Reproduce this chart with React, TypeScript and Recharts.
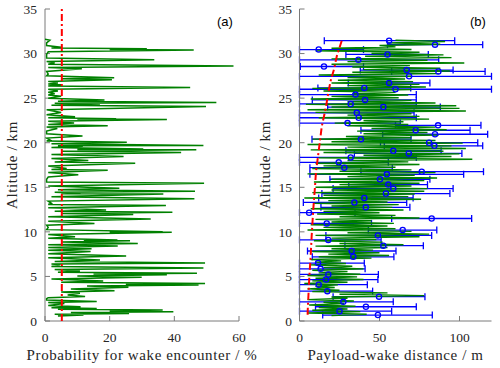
import React from 'react';
import { ComposedChart, Scatter, XAxis, YAxis, ErrorBar } from 'recharts';

const ALT_TICKS = [0, 5, 10, 15, 20, 25, 30, 35];
const PROB_TICKS = [0, 20, 40, 60];
const DIST_TICKS = [0, 50, 100];

// [altitude km, probability %]
const wakeProbability: [number, number][] = [
  [0.55, 4], [0.67, 11.9], [0.76, 3], [0.85, 26], [0.95, 8], [1.05, 39.7], [1.12, 20], [1.23, 36.4], [1.32, 4], [1.4, 16],
  [1.5, 2], [1.6, 11], [1.75, 1], [1.95, 6], [2.08, 1], [2.2, 16], [2.35, 0.5], [2.5, 0.5], [2.62, 1], [2.75, 12.4],
  [2.92, 7], [3.1, 10.8], [3.25, 5], [3.4, 21.5], [3.6, 8], [3.8, 25.8], [3.92, 13], [4.05, 47.5], [4.12, 25], [4.2, 49.5],
  [4.35, 5], [4.5, 18], [4.7, 2], [4.9, 29.9], [5.05, 10], [5.2, 37.7], [5.27, 15], [5.35, 47], [5.47, 4], [5.6, 10.8],
  [5.78, 3], [5.95, 49], [6.12, 2], [6.3, 4.7], [6.4, 2], [6.5, 49.5], [6.68, 3], [6.85, 17], [7.1, 1], [7.3, 25.1],
  [7.55, 1], [7.8, 14.1], [7.95, 1], [8.1, 14.4], [8.25, 1], [8.4, 22.5], [8.55, 1], [8.7, 28.7], [8.85, 5], [9.0, 26.3],
  [9.05, 12], [9.1, 22.4], [9.28, 1], [9.45, 9.3], [9.7, 1], [9.95, 39.2], [9.98, 20], [10.02, 36.4], [10.25, 0.5], [10.5, 1],
  [10.75, 0.5], [10.95, 15.3], [11.2, 1], [11.45, 32.7], [11.7, 1], [11.95, 27.3], [12.07, 5], [12.2, 39.4], [12.32, 3], [12.45, 18.9],
  [12.7, 1], [12.95, 37.4], [13.08, 1], [13.2, 2], [13.45, 1], [13.7, 46.2], [13.95, 2], [14.25, 36.6], [14.28, 5], [14.32, 11],
  [14.43, 3], [14.55, 46.4], [14.72, 4], [14.9, 23], [15.15, 1], [15.45, 49.2], [15.6, 0.5], [15.9, 0.5], [16.15, 1], [16.4, 10.3],
  [16.65, 1], [16.9, 19.4], [17.0, 2], [17.1, 6.7], [17.4, 1], [17.7, 27.9], [17.85, 3], [18.0, 13.4], [18.22, 2], [18.45, 24.3],
  [18.68, 2], [18.9, 42.1], [19.05, 5], [19.2, 46.8], [19.25, 10], [19.3, 30.4], [19.45, 2], [19.6, 11.7], [19.65, 4], [19.7, 49],
  [19.88, 2], [20.05, 25.3], [20.18, 0.5], [20.3, 1.6], [20.52, 0.5], [20.75, 11.6], [21.0, 0.5], [21.3, 0.5], [21.6, 3.8], [21.75, 0.5],
  [21.9, 19.4], [22.05, 1], [22.2, 9], [22.4, 1], [22.6, 37.7], [22.65, 10], [22.7, 22], [22.8, 1], [22.9, 9.3], [23.15, 0.5],
  [23.4, 5], [23.7, 0.5], [24.05, 49.8], [24.2, 2], [24.35, 17], [24.42, 3], [24.5, 53], [24.65, 4], [24.8, 18.4], [25.0, 1],
  [25.2, 5], [25.35, 1], [25.5, 3], [25.65, 1], [25.8, 4], [26.0, 1], [26.2, 44.9], [26.35, 1], [26.5, 5], [26.6, 1],
  [26.7, 4], [26.88, 1], [27.05, 20.7], [27.18, 5], [27.3, 21.4], [27.5, 0.5], [27.7, 1], [28.0, 0.5], [28.3, 11.4], [28.45, 1],
  [28.6, 58.3], [28.8, 1], [28.97, 3], [29.1, 0.5], [29.3, 33.8], [29.5, 0.5], [29.9, 0.5], [30.2, 1], [30.4, 46], [30.47, 20],
  [30.55, 31.5], [30.62, 2], [30.7, 5], [30.9, 0.5], [31.2, 0.5], [31.5, 1.5], [31.6, 0],
];

// [altitude km, probability %]
const probThreshold: [number, number][] = [[0, 5.2], [35, 5.2]];

// [altitude km, distance m]
const wakeDistance: [number, number][] = [
  [0.6, 20], [0.75, 42], [0.9, 5], [1.05, 38], [1.2, 8], [1.35, 30], [1.5, 12], [1.65, 35], [1.8, 6], [1.95, 28],
  [2.1, 15], [2.25, 34], [2.4, 5], [2.55, 30], [2.7, 20], [2.85, 78], [3.0, 25], [3.15, 55], [3.3, 8], [3.45, 25],
  [3.6, 5], [3.75, 22], [3.9, 10], [4.05, 24], [4.2, 3], [4.35, 30], [4.5, 8], [4.65, 40], [4.8, 10], [4.95, 36],
  [5.1, 5], [5.25, 38], [5.4, 12], [5.55, 30], [5.7, 8], [5.85, 40], [6.0, 15], [6.15, 33], [6.3, 7], [6.45, 29],
  [6.6, 10], [6.75, 26], [6.9, 7], [7.05, 45], [7.2, 12], [7.35, 56], [7.5, 18], [7.65, 50], [7.8, 8], [7.95, 46],
  [8.1, 20], [8.25, 55], [8.4, 10], [8.55, 65], [8.7, 25], [8.85, 52], [9.0, 9], [9.15, 48], [9.3, 20], [9.45, 75],
  [9.6, 10], [9.75, 81], [9.9, 30], [10.05, 70], [10.2, 5], [10.35, 60], [10.5, 15], [10.65, 55], [10.8, 7], [10.95, 59],
  [11.1, 20], [11.25, 45], [11.4, 10], [11.55, 75], [11.7, 25], [11.85, 60], [12.0, 11], [12.15, 50], [12.3, 15], [12.45, 65],
  [12.6, 7], [12.75, 58], [12.9, 20], [13.05, 62], [13.2, 9], [13.35, 55], [13.5, 18], [13.65, 76], [13.8, 3], [13.95, 68],
  [14.1, 15], [14.25, 72], [14.4, 8], [14.55, 78], [14.7, 20], [14.85, 80], [15.0, 10], [15.15, 70], [15.3, 25], [15.45, 75],
  [15.6, 9], [15.75, 78], [15.9, 20], [16.05, 86], [16.2, 30], [16.35, 72], [16.5, 5], [16.65, 85], [16.8, 25], [16.95, 70],
  [17.1, 8], [17.25, 60], [17.4, 15], [17.55, 75], [17.7, 10], [17.85, 68], [18.0, 30], [18.15, 108], [18.3, 12], [18.45, 95],
  [18.6, 40], [18.75, 100], [18.9, 15], [19.05, 90], [19.2, 7], [19.35, 104], [19.5, 30], [19.65, 95], [19.8, 5], [19.95, 102],
  [20.1, 20], [20.25, 85], [20.4, 8], [20.55, 70], [20.7, 29], [20.85, 87], [21.0, 40], [21.15, 80], [21.3, 36], [21.45, 92],
  [21.6, 45], [21.75, 85], [21.9, 30], [22.05, 68], [22.2, 22], [22.35, 65], [22.5, 40], [22.65, 81], [22.8, 12], [22.95, 75],
  [23.1, 30], [23.25, 70], [23.4, 10], [23.55, 104], [23.7, 5], [23.85, 100], [24.0, 20], [24.15, 98], [24.3, 4], [24.45, 85],
  [24.6, 30], [24.75, 70], [24.9, 7], [25.05, 62], [25.2, 20], [25.35, 68], [25.5, 33], [25.65, 60], [25.8, 15], [25.95, 70],
  [26.1, 8], [26.25, 79], [26.4, 30], [26.55, 75], [26.7, 20], [26.85, 71], [27.0, 24], [27.15, 66], [27.3, 30], [27.45, 70],
  [27.6, 12], [27.75, 87], [27.9, 33], [28.05, 94], [28.2, 40], [28.35, 88], [28.5, 33], [28.65, 69], [28.8, 20], [28.95, 103],
  [29.1, 30], [29.25, 80], [29.4, 20], [29.55, 95], [29.7, 41], [29.85, 90], [30.0, 45], [30.15, 75], [30.3, 10], [30.45, 70],
  [30.6, 20], [30.75, 60], [30.9, 50], [31.05, 88], [31.2, 55], [31.35, 91], [31.5, 60],
];

// [altitude km, distance m]
const distThreshold: [number, number][] = [
  [0.7, 5.1], [1.05, 5.1], [4.8, 6.1], [7.4, 7], [9.5, 7.6], [12.5, 8.6], [15.1, 9.7], [16.75, 10.3],
  [18.8, 11.8], [21.8, 13.9], [24.05, 16.6], [25.2, 17.6], [26.9, 19.4], [28.2, 21.5], [29.85, 23.5], [31.6, 26.7],
];

// [altitude km, mean distance m, lower bound m, upper bound m]
const distEstimates: [number, number, number, number][] = [
  [0.67, 49, 14.5, 83], [1.1, 25, -8, 57.6], [1.6, 41.5, 10, 73], [2.15, 27.4, -4, 58.6], [2.73, 49.7, 21, 78.4],
  [3.35, 17.4, -11, 45.7], [4.08, 12, -18, 42.4], [4.65, 16.6, -16, 49], [5.22, 18, -13, 49.3], [5.85, 13.2, -15, 41],
  [6.5, 11.6, -17, 40.5], [7.2, 33.6, 8, 59], [7.85, 32.6, 5, 60.3], [8.45, 52.4, 28.4, 77.4], [9.1, 18, -16, 51],
  [9.6, 49, 16.5, 82.6], [10.2, 64.5, 43, 85.8], [10.95, 17, -11, 45], [11.5, 82.6, 57.6, 107.6], [12.15, 6, -23, 34.7],
  [12.75, 41.4, 13.4, 69], [13.3, 34.3, 2.4, 67], [13.8, 40.5, 12, 71], [14.3, 54, 14, 94], [14.85, 58.6, 21, 96],
  [15.3, 55.5, 30.8, 80], [15.9, 50.3, 19, 81.5], [16.45, 54.6, 6.5, 102.6], [16.75, 76.4, 38.4, 115], [17.2, 28, 6.5, 58],
  [17.8, 24.5, -6, 55.5], [18.35, 32, -9, 73], [18.8, 68.3, 34.3, 101.5], [19.1, 58.6, 29, 88.5], [19.65, 84.3, 53, 114.5],
  [20.0, 81, 50.6, 111.4], [20.4, 38.4, 7.8, 69.7], [20.95, 84.7, 52, 117.6], [21.4, 72.6, 38.4, 106.6], [21.95, 86.6, 60, 113.4],
  [22.2, 30, -3, 63], [22.8, 37, -5, 73], [23.35, 35.8, -2, 71.6], [24.0, 52.4, 17.6, 88], [24.35, 32, -9, 73],
  [24.8, 41, 8, 73], [25.4, 35, -3, 73], [26.0, 60, -5, 130], [26.15, 40.5, 11.5, 69.5], [26.7, 56, 30.5, 81.5],
  [27.45, 68.5, -5, 140], [28.0, 86.8, 57.6, 116], [28.15, 67, 38, 96], [28.55, 15.3, 0.5, 40], [29.3, 36.8, -13, 87],
  [29.9, 55, 29, 80.5], [30.45, 12, -16, 40], [31.0, 84.7, 55, 114.5], [31.45, 56, 15.5, 97],
];

const DIST_MIN = 0;
const DIST_MAX = 120;

const FONT = '"Liberation Serif", "Times New Roman", serif';
const SANS = '"Liberation Sans", Arial, sans-serif';
const AX = '#7a7a7a';
const TXT = '#262626';
const GREEN = '#008000';
const RED = '#ff0000';
const BLUE = '#0000ff';

const pts = (arr: [number, number][]) => arr.map(([alt, v]) => ({ alt, v }));
const probData = pts(wakeProbability);
const probThrData = pts(probThreshold);
const distData = pts(wakeDistance);
const distThrData = pts(distThreshold);
// error bars are cut at the plot frame, as in the original figure
const estData = distEstimates.map(([alt, c, lo, hi]) => ({
  alt,
  v: c,
  err: [c - Math.max(lo, DIST_MIN), Math.min(hi, DIST_MAX) - c],
}));

const tickStyle = { fill: TXT, fontSize: 13.5, fontFamily: FONT };
const noShape = () => <g />;

const yLabel = (x: number) => (props: any) => {
  const vb = props.viewBox || { y: 9, height: 312 };
  const cy = vb.y + vb.height / 2;
  return (
    <text x={x} y={cy} transform={`rotate(-90 ${x} ${cy})`} textAnchor="middle" dominantBaseline="central"
      fill={TXT} fontSize={15} fontFamily={FONT} letterSpacing={0.6}>Altitude / km</text>
  );
};

const xLabel = (value: string) => ({
  value, position: 'insideBottom' as const, offset: 8, fill: TXT, fontSize: 15, fontFamily: FONT, letterSpacing: 0.6,
});

const circleShape = (p: any) => (
  <circle cx={p.cx} cy={p.cy} r={2.6} fill="none" stroke={BLUE} strokeWidth={1.3} />
);

export default function App() {
  const H = 368;
  return (
    <div style={{ position: 'absolute', left: 0, top: 0, width: 500, height: 368, background: '#fff' }}>
      <div style={{ position: 'absolute', left: 0, top: 0 }}>
        <ComposedChart width={264} height={H} margin={{ top: 9, right: 25, bottom: 0, left: 0 }}>
          <XAxis xAxisId="b" type="number" dataKey="v" domain={[0, 60]} ticks={PROB_TICKS} interval={0}
            allowDataOverflow tickSize={-5} tickMargin={16} height={47}
            axisLine={{ stroke: AX }} tickLine={{ stroke: AX }} tick={tickStyle}
            label={xLabel('Probability for wake encounter / %')} />
          <XAxis xAxisId="t" orientation="top" type="number" dataKey="v" domain={[0, 60]} ticks={PROB_TICKS} interval={0}
            allowDataOverflow tickSize={-5} height={0} axisLine={{ stroke: AX }} tickLine={{ stroke: AX }} tickFormatter={() => ''} />
          <YAxis yAxisId="l" type="number" dataKey="alt" domain={[0, 35]} ticks={ALT_TICKS} interval={0}
            allowDataOverflow tickSize={-5} tickMargin={13} width={45}
            axisLine={{ stroke: AX }} tickLine={{ stroke: AX }} tick={tickStyle}
            label={{ content: yLabel(12) }} />
          <YAxis yAxisId="r" orientation="right" type="number" dataKey="alt" domain={[0, 35]} ticks={ALT_TICKS} interval={0}
            allowDataOverflow tickSize={-5} width={0} axisLine={{ stroke: AX }} tickLine={{ stroke: AX }} tickFormatter={() => ''} />
          <Scatter xAxisId="b" yAxisId="l" data={probData} line={{ stroke: GREEN, strokeWidth: 1.5 }} shape={noShape} isAnimationActive={false} />
          <Scatter xAxisId="b" yAxisId="l" data={probThrData} line={{ stroke: RED, strokeWidth: 2, strokeDasharray: '7 3 2 3' }} shape={noShape} isAnimationActive={false} />
        </ComposedChart>
      </div>
      <div style={{ position: 'absolute', left: 250, top: 0 }}>
        <ComposedChart width={250} height={H} margin={{ top: 9, right: 8.5, bottom: 0, left: 0 }}>
          <XAxis xAxisId="b" type="number" dataKey="v" domain={[DIST_MIN, DIST_MAX]} ticks={DIST_TICKS} interval={0}
            allowDataOverflow tickSize={-5} tickMargin={16} height={47}
            axisLine={{ stroke: AX }} tickLine={{ stroke: AX }} tick={tickStyle}
            label={xLabel('Payload-wake distance / m')} />
          <XAxis xAxisId="t" orientation="top" type="number" dataKey="v" domain={[DIST_MIN, DIST_MAX]} ticks={DIST_TICKS} interval={0}
            allowDataOverflow tickSize={-5} height={0} axisLine={{ stroke: AX }} tickLine={{ stroke: AX }} tickFormatter={() => ''} />
          <YAxis yAxisId="l" type="number" dataKey="alt" domain={[0, 35]} ticks={ALT_TICKS} interval={0}
            allowDataOverflow tickSize={-5} tickMargin={12.5} width={49.5}
            axisLine={{ stroke: AX }} tickLine={{ stroke: AX }} tick={tickStyle}
            label={{ content: yLabel(15) }} />
          <YAxis yAxisId="r" orientation="right" type="number" dataKey="alt" domain={[0, 35]} ticks={ALT_TICKS} interval={0}
            allowDataOverflow tickSize={-5} width={0} axisLine={{ stroke: AX }} tickLine={{ stroke: AX }} tickFormatter={() => ''} />
          <Scatter xAxisId="b" yAxisId="l" data={distData} line={{ stroke: GREEN, strokeWidth: 1.4 }} shape={noShape} isAnimationActive={false} />
          <Scatter xAxisId="b" yAxisId="l" data={estData} shape={circleShape} isAnimationActive={false}>
            <ErrorBar dataKey="err" direction="x" width={3.5} stroke={BLUE} strokeWidth={1.3} isAnimationActive={false} />
          </Scatter>
          <Scatter xAxisId="b" yAxisId="l" data={distThrData} line={{ stroke: RED, strokeWidth: 2, strokeDasharray: '7 3 2 3' }} shape={noShape} isAnimationActive={false} />
        </ComposedChart>
      </div>
      <svg width={500} height={368} style={{ position: 'absolute', left: 0, top: 0, pointerEvents: 'none' }}>
        <text x={217} y={26} fontSize={13} fontFamily={SANS} fill="#000">(a)</text>
        <text x={470} y={26} fontSize={13} fontFamily={SANS} fill="#000">(b)</text>
      </svg>
    </div>
  );
}
